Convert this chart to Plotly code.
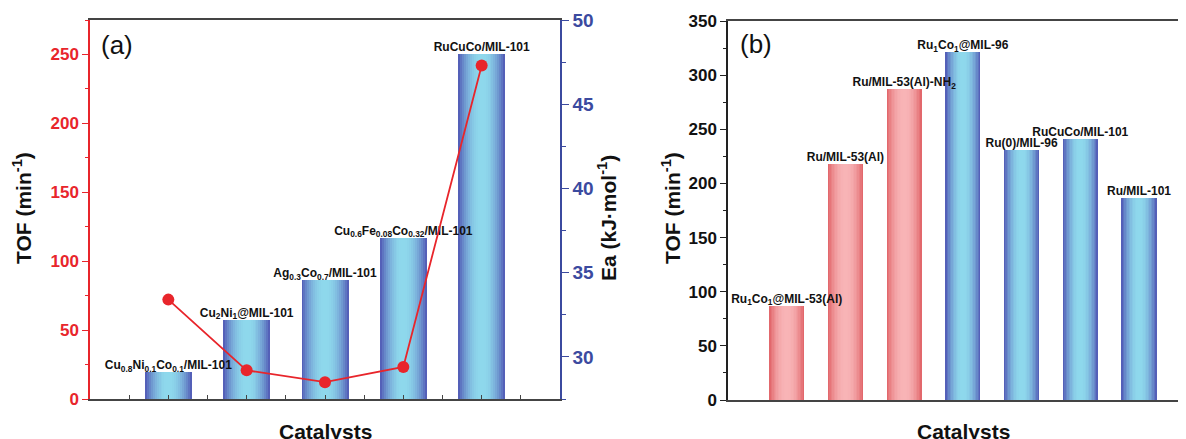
import plotly.graph_objects as go

# ---------------- data ----------------
cat_a = [1, 2, 3, 4, 5]
labels_a = ["Cu<sub>0.8</sub>Ni<sub>0.1</sub>Co<sub>0.1</sub>/MIL-101",
            "Cu<sub>2</sub>Ni<sub>1</sub>@MIL-101",
            "Ag<sub>0.3</sub>Co<sub>0.7</sub>/MIL-101",
            "Cu<sub>0.6</sub>Fe<sub>0.08</sub>Co<sub>0.32</sub>/MIL-101",
            "RuCuCo/MIL-101"]
tof_a = [19.5, 57.5, 86, 117, 250]
ea_a = [33.4, 29.2, 28.5, 29.4, 47.3]

cat_b = [1, 2, 3, 4, 5, 6, 7]
labels_b = ["Ru<sub>1</sub>Co<sub>1</sub>@MIL-53(Al)",
            "Ru/MIL-53(Al)",
            "Ru/MIL-53(Al)-NH<sub>2</sub>",
            "Ru<sub>1</sub>Co<sub>1</sub>@MIL-96",
            "Ru(0)/MIL-96",
            "RuCuCo/MIL-101",
            "Ru/MIL-101"]
tof_b = [87, 218, 287, 321, 231, 241, 187]
group_b = ["red", "red", "red", "blue", "blue", "blue", "blue"]

# ---------------- style ----------------
FONT = "Liberation Sans"
RED = "#e8252b"
BLUE = "#3b4a9f"
GRAD = {
    "blue": ((84, 96, 184), (142, 216, 236)),
    "red": ((226, 104, 108), (248, 180, 182)),
}
NLAYER = 12
BAR_W = 0.6


def mix(c0, c1, t):
    return "rgb(%d,%d,%d)" % tuple(round(a + (b - a) * t) for a, b in zip(c0, c1))


def layer_color(kind, k):
    d = k / (NLAYER - 1)
    t = 1 - (1 - d) ** 2
    c0, c1 = GRAD[kind]
    return mix(c0, c1, t)


fig = go.Figure()

# panel (a) gradient bars
for k in range(NLAYER):
    w = BAR_W * (1 - k / NLAYER)
    fig.add_trace(go.Bar(x=cat_a, y=tof_a, width=w, marker_color=layer_color("blue", k),
                         marker_line_width=0, xaxis="x", yaxis="y",
                         showlegend=False, hoverinfo="skip"))
fig.add_trace(go.Scatter(x=cat_a, y=tof_a, mode="text", text=labels_a,
                         textposition="top center", cliponaxis=False,
                         textfont=dict(family=FONT, size=12, color="#111", weight="bold"),
                         xaxis="x", yaxis="y", showlegend=False, hoverinfo="skip"))
fig.add_trace(go.Scatter(x=cat_a, y=ea_a, mode="lines+markers",
                         line=dict(color=RED, width=1.8),
                         marker=dict(color=RED, size=12),
                         xaxis="x", yaxis="y2", showlegend=False, hoverinfo="skip"))

# panel (b) gradient bars
for k in range(NLAYER):
    w = BAR_W * (1 - k / NLAYER)
    fig.add_trace(go.Bar(x=cat_b, y=tof_b, width=w,
                         marker_color=[layer_color(g, k) for g in group_b],
                         marker_line_width=0, xaxis="x2", yaxis="y3",
                         showlegend=False, hoverinfo="skip"))
fig.add_trace(go.Scatter(x=cat_b, y=tof_b, mode="text", text=labels_b,
                         textposition="top center", cliponaxis=False,
                         textfont=dict(family=FONT, size=12, color="#111", weight="bold"),
                         xaxis="x2", yaxis="y3", showlegend=False, hoverinfo="skip"))

# page body has an 8px margin; size the figure so it fills the window exactly
OFF = 8
W, H = 1186 - OFF, 439 - OFF


def px_x(v):
    return (v - OFF) / W


def px_y(v):
    return 1 - (v - OFF) / H


tickfont = lambda c, s: dict(family=FONT, size=s, color=c, weight="bold")

fig.update_layout(
    width=W, height=H,
    margin=dict(l=0, r=0, t=0, b=0, pad=0, autoexpand=False),
    paper_bgcolor="white", plot_bgcolor="white",
    barmode="overlay", bargap=0,
    font=dict(family=FONT),
    xaxis=dict(domain=[px_x(90), px_x(560)], range=[0, 6], showgrid=False, zeroline=False,
               showline=True, linecolor="#444", linewidth=1.5, mirror=True,
               ticks="inside", ticklen=4, tickcolor="#444", dtick=0.5, tick0=0,
               showticklabels=False, fixedrange=True, automargin=False),
    yaxis=dict(domain=[px_y(399), px_y(20)], range=[0, 275], showgrid=False, zeroline=False,
               showline=True, linecolor=RED, linewidth=1.5,
               ticks="outside", ticklen=6, tickcolor=RED, tickwidth=1.2,
               tickvals=[0, 50, 100, 150, 200, 250], automargin=False,
               minor=dict(ticks="outside", ticklen=3, tickcolor=RED, dtick=25, tick0=0),
               tickfont=tickfont(RED, 17), anchor="x"),
    yaxis2=dict(domain=[px_y(399), px_y(20)], range=[27.5, 50], overlaying="y", side="right",
                anchor="x", showgrid=False, zeroline=False, automargin=False,
                showline=True, linecolor=BLUE, linewidth=1.5,
                ticks="outside", ticklen=7, tickcolor=BLUE, tickwidth=1.2,
                tickvals=[30, 35, 40, 45, 50],
                minor=dict(ticks="outside", ticklen=4, tickcolor=BLUE, dtick=2.5, tick0=27.5),
                tickfont=tickfont(BLUE, 19)),
    xaxis2=dict(domain=[px_x(728), 1.0], range=[0, 7.8], anchor="y3", showgrid=False,
                zeroline=False, showline=True, linecolor="#444", linewidth=1.5, mirror=True,
                ticks="", showticklabels=False, fixedrange=True, automargin=False),
    yaxis3=dict(domain=[px_y(400), px_y(21)], range=[0, 350], anchor="x2", showgrid=False,
                zeroline=False, showline=True, linecolor="#222", linewidth=1.5,
                ticks="outside", ticklen=6, tickcolor="#222", tickwidth=1.2, automargin=False,
                tickvals=[0, 50, 100, 150, 200, 250, 300, 350],
                minor=dict(ticks="outside", ticklen=3, tickcolor="#222", dtick=25, tick0=0),
                tickfont=tickfont("#111", 17)),
)

ann = []


def add_text(txt, x, y, size, angle=0, bold=True, xanchor="center"):
    ann.append(dict(text=("<b>%s</b>" % txt) if bold else txt, x=px_x(x), y=px_y(y),
                    xref="paper", yref="paper", showarrow=False, textangle=angle,
                    xanchor=xanchor, yanchor="middle",
                    font=dict(family=FONT, size=size, color="#111")))


add_text("(a)", 99, 45, 26, bold=False, xanchor="left")
add_text("(b)", 738, 44, 26, bold=False, xanchor="left")
add_text("TOF (min<sup>-1</sup>)", 22, 208, 21, angle=-90)
add_text("Ea (kJ·mol<sup>-1</sup>)", 607, 218, 21, angle=-90)
add_text("TOF (min<sup>-1</sup>)", 671, 208, 21, angle=-90)
add_text("Catalysts", 325, 431, 21)
add_text("Catalysts", 963, 431, 21)
fig.update_layout(annotations=ann)

fig.write_html("out.html", config={"displayModeBar": False})
